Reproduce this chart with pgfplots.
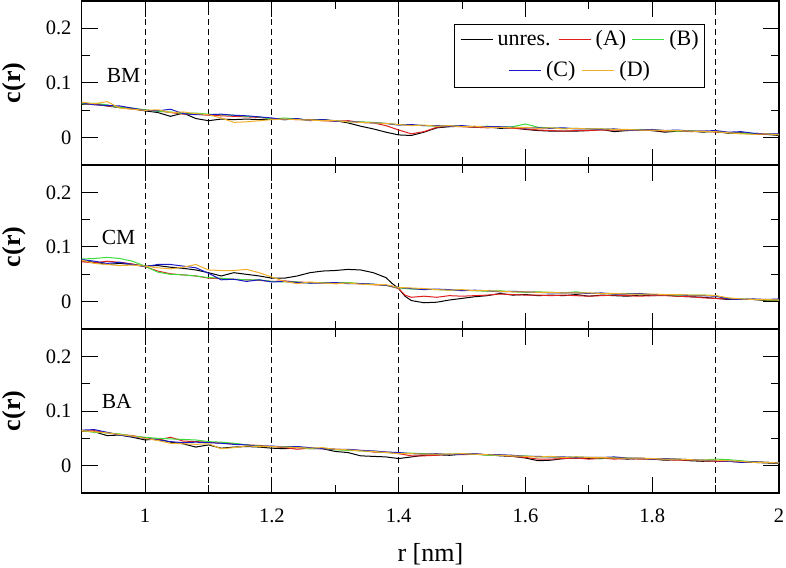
\documentclass[border=0pt]{standalone}
\usepackage{fontspec}
\setmainfont{Liberation Serif}
\usepackage{pgfplots}
\pgfplotsset{compat=1.18}
\usepackage{pgfplotstable}
\definecolor{cA}{RGB}{225,30,30}
\definecolor{cB}{RGB}{60,220,60}
\definecolor{cC}{RGB}{25,25,200}
\definecolor{cD}{RGB}{240,175,40}

\pgfplotstableread{
x U A B C D
0.90 0.061 0.063 0.062 0.064 0.065
0.92 0.062 0.061 0.063 0.060 0.062
0.94 0.058 0.058 0.060 0.059 0.066
0.96 0.055 0.056 0.055 0.058 0.054
0.98 0.053 0.052 0.054 0.054 0.052
1.00 0.049 0.050 0.051 0.050 0.050
1.02 0.046 0.049 0.048 0.049 0.051
1.04 0.039 0.046 0.047 0.052 0.046
1.06 0.045 0.043 0.044 0.044 0.047
1.08 0.035 0.043 0.045 0.042 0.044
1.10 0.031 0.041 0.043 0.042 0.042
1.12 0.034 0.040 0.042 0.043 0.036
1.14 0.033 0.039 0.041 0.041 0.028
1.16 0.034 0.038 0.039 0.040 0.029
1.18 0.033 0.037 0.038 0.038 0.031
1.20 0.034 0.035 0.034 0.036 0.033
1.22 0.033 0.034 0.036 0.033 0.034
1.24 0.034 0.033 0.034 0.035 0.033
1.26 0.032 0.033 0.032 0.031 0.032
1.28 0.033 0.031 0.032 0.033 0.031
1.30 0.031 0.030 0.031 0.030 0.031
1.32 0.027 0.031 0.029 0.030 0.029
1.34 0.021 0.028 0.029 0.028 0.028
1.36 0.016 0.027 0.028 0.027 0.027
1.38 0.010 0.022 0.026 0.026 0.026
1.40 0.005 0.014 0.024 0.023 0.024
1.42 0.004 0.007 0.023 0.024 0.022
1.44 0.010 0.011 0.022 0.022 0.023
1.46 0.018 0.019 0.021 0.022 0.021
1.48 0.020 0.021 0.022 0.021 0.022
1.50 0.021 0.020 0.021 0.022 0.020
1.52 0.019 0.019 0.020 0.020 0.021
1.54 0.020 0.018 0.021 0.020 0.019
1.56 0.017 0.019 0.019 0.020 0.019
1.58 0.018 0.017 0.020 0.019 0.018
1.60 0.015 0.016 0.025 0.018 0.019
1.62 0.013 0.014 0.019 0.018 0.017
1.64 0.012 0.013 0.018 0.017 0.018
1.66 0.012 0.012 0.017 0.018 0.016
1.68 0.012 0.013 0.017 0.016 0.017
1.70 0.013 0.013 0.016 0.016 0.016
1.72 0.015 0.014 0.016 0.015 0.016
1.74 0.011 0.014 0.015 0.016 0.015
1.76 0.013 0.013 0.014 0.014 0.015
1.78 0.014 0.014 0.015 0.014 0.014
1.80 0.013 0.013 0.014 0.015 0.014
1.82 0.010 0.012 0.013 0.013 0.013
1.84 0.012 0.013 0.012 0.014 0.013
1.86 0.012 0.011 0.013 0.012 0.012
1.88 0.010 0.012 0.011 0.012 0.011
1.90 0.012 0.010 0.011 0.013 0.011
1.92 0.008 0.009 0.009 0.010 0.009
1.94 0.009 0.008 0.008 0.011 0.007
1.96 0.007 0.007 0.008 0.008 0.006
1.98 0.006 0.006 0.007 0.007 0.007
2.00 0.004 0.006 0.006 0.007 0.005
}\tBM

\pgfplotstableread{
x U A B C D
0.90 0.075 0.073 0.078 0.077 0.076
0.92 0.072 0.071 0.079 0.074 0.070
0.94 0.068 0.074 0.081 0.070 0.068
0.96 0.070 0.072 0.079 0.072 0.066
0.98 0.068 0.069 0.074 0.068 0.067
1.00 0.065 0.064 0.065 0.064 0.065
1.02 0.066 0.056 0.054 0.068 0.062
1.04 0.063 0.051 0.050 0.068 0.060
1.06 0.061 0.049 0.049 0.065 0.063
1.08 0.058 0.047 0.047 0.062 0.068
1.10 0.053 0.043 0.044 0.052 0.058
1.12 0.047 0.042 0.043 0.040 0.057
1.14 0.053 0.041 0.041 0.041 0.057
1.16 0.050 0.040 0.040 0.037 0.059
1.18 0.047 0.039 0.040 0.040 0.053
1.20 0.043 0.037 0.037 0.036 0.045
1.22 0.043 0.038 0.036 0.037 0.037
1.24 0.047 0.036 0.036 0.035 0.033
1.26 0.053 0.035 0.034 0.034 0.036
1.28 0.056 0.035 0.035 0.034 0.034
1.30 0.057 0.033 0.034 0.035 0.033
1.32 0.059 0.034 0.035 0.033 0.034
1.34 0.058 0.033 0.033 0.033 0.032
1.36 0.053 0.031 0.032 0.032 0.031
1.38 0.044 0.030 0.030 0.030 0.031
1.39 0.033 nan nan nan nan
1.40 0.024 0.024 0.025 0.026 0.026
1.41 0.010 0.012 nan nan nan
1.42 0.002 0.008 0.023 0.024 0.025
1.44 -0.002 0.010 0.023 0.022 0.024
1.46 -0.001 0.008 0.022 0.023 0.022
1.48 0.003 0.011 0.021 0.022 0.021
1.50 0.006 0.010 0.021 0.020 0.022
1.52 0.009 0.011 0.020 0.021 0.020
1.54 0.011 0.012 0.019 0.020 0.020
1.56 0.015 0.014 0.020 0.018 0.019
1.58 0.012 0.013 0.018 0.019 0.018
1.60 0.013 0.012 0.017 0.018 0.018
1.62 0.011 0.012 0.018 0.017 0.017
1.64 0.012 0.011 0.017 0.016 0.017
1.66 0.011 0.012 0.016 0.016 0.016
1.68 0.013 0.011 0.018 0.016 0.016
1.70 0.010 0.010 0.015 0.015 0.016
1.72 0.012 0.011 0.015 0.016 0.015
1.74 0.011 0.012 0.014 0.014 0.015
1.76 0.010 0.011 0.015 0.014 0.014
1.78 0.012 0.010 0.014 0.015 0.014
1.80 0.011 0.011 0.013 0.013 0.014
1.82 0.012 0.011 0.013 0.013 0.013
1.84 0.010 0.010 0.012 0.013 0.013
1.86 0.009 0.009 0.012 0.011 0.012
1.88 0.008 0.007 0.012 0.011 0.012
1.90 0.006 0.006 0.011 0.010 0.011
1.92 0.004 0.005 0.006 0.005 0.007
1.94 0.004 0.004 0.005 0.004 0.005
1.96 0.004 0.004 0.004 0.005 0.004
1.98 0.002 0.003 0.003 0.004 0.004
2.00 0.002 0.003 0.003 0.005 0.003
}\tCM

\pgfplotstableread{
x U A B C D
0.90 0.064 0.063 0.064 0.065 0.064
0.92 0.062 0.064 0.061 0.066 0.062
0.94 0.055 0.060 0.060 0.061 0.060
0.96 0.056 0.057 0.058 0.056 0.057
0.98 0.052 0.055 0.054 0.053 0.054
1.00 0.047 0.051 0.052 0.050 0.050
1.02 0.049 0.047 0.050 0.047 0.046
1.04 0.043 0.052 0.049 0.044 0.041
1.06 0.040 0.045 0.048 0.042 0.040
1.08 0.034 0.044 0.047 0.043 0.039
1.10 0.038 0.043 0.044 0.042 0.040
1.12 0.032 0.041 0.043 0.041 0.031
1.14 0.034 0.040 0.041 0.039 0.033
1.16 0.035 0.038 0.038 0.038 0.036
1.18 0.034 0.037 0.036 0.035 0.035
1.20 0.032 0.035 0.035 0.036 0.035
1.22 0.031 0.033 0.035 0.034 0.034
1.24 0.033 0.030 0.034 0.035 0.033
1.26 0.031 0.032 0.031 0.033 0.032
1.28 0.031 0.031 0.032 0.031 0.033
1.30 0.026 0.030 0.029 0.030 0.030
1.32 0.024 0.029 0.028 0.030 0.029
1.34 0.018 0.028 0.027 0.028 0.027
1.36 0.017 0.025 0.026 0.027 0.026
1.38 0.016 0.025 0.024 0.025 0.024
1.40 0.013 0.022 0.023 0.024 0.022
1.42 0.016 0.018 0.023 0.022 0.022
1.44 0.019 0.018 0.022 0.021 0.021
1.46 0.020 0.019 0.021 0.022 0.021
1.48 0.019 0.021 0.021 0.020 0.021
1.50 0.021 0.020 0.022 0.021 0.022
1.52 0.021 0.021 0.021 0.022 0.021
1.54 0.020 0.020 0.019 0.020 0.020
1.56 0.018 0.019 0.019 0.020 0.019
1.58 0.017 0.017 0.018 0.019 0.018
1.60 0.014 0.015 0.018 0.017 0.017
1.62 0.009 0.012 0.016 0.017 0.016
1.64 0.010 0.012 0.016 0.016 0.017
1.66 0.013 0.013 0.015 0.016 0.015
1.68 0.014 0.014 0.016 0.015 0.016
1.70 0.013 0.012 0.015 0.015 0.015
1.72 0.013 0.014 0.014 0.015 0.015
1.74 0.014 0.012 0.015 0.016 0.014
1.76 0.012 0.013 0.014 0.014 0.014
1.78 0.013 0.012 0.013 0.014 0.014
1.80 0.012 0.012 0.013 0.012 0.013
1.82 0.010 0.011 0.012 0.013 0.012
1.84 0.011 0.010 0.012 0.012 0.012
1.86 0.009 0.010 0.011 0.011 0.011
1.88 0.008 0.009 0.010 0.010 0.010
1.90 0.009 0.008 0.012 0.009 0.010
1.92 0.008 0.008 0.011 0.008 0.009
1.94 0.007 0.007 0.009 0.006 0.008
1.96 0.006 0.007 0.007 0.007 0.006
1.98 0.005 0.006 0.006 0.006 0.006
2.00 0.004 0.005 0.005 0.005 0.005
}\tBA

\pgfplotsset{
 panel/.style={
  scale only axis, width=697.3pt, height=164pt,
  xmin=0.9, xmax=2, ymin=-0.05, ymax=0.25,
  xtick={1,1.2,1.4,1.6,1.8,2},
  minor xtick={1.1,1.3,1.5,1.7,1.9},
  ytick={0,0.1,0.2}, minor ytick={0.05,0.15},
  tick align=inside, major tick length=16pt, minor tick length=8pt,
  tick style={black, line width=1pt},
  axis line style={line width=1.1pt},
  every axis plot/.append style={line width=1pt},
  /pgf/number format/assume math mode=true,
  ticklabel style={font=\fontsize{20.5}{24}\selectfont, inner sep=0pt},
  yticklabel style={xshift=-10pt},
  xticklabel style={yshift=-16pt},
  ylabel={c(r)},
  ylabel style={font=\fontsize{26}{30}\selectfont\bfseries, at={(axis description cs:-0.0802,0.5)}, anchor=south, inner sep=0pt},
 },
 vl/.style={black, line width=0.9pt, dash pattern=on 6pt off 4pt, forget plot},
}
\newcommand\myvlines{%
  \addplot[vl] coordinates {(1,-0.05) (1,0.25)};
  \addplot[vl] coordinates {(1.1,-0.05) (1.1,0.25)};
  \addplot[vl] coordinates {(1.2,-0.05) (1.2,0.25)};
  \addplot[vl] coordinates {(1.4,-0.05) (1.4,0.25)};
  \addplot[vl] coordinates {(1.9,-0.05) (1.9,0.25)};
}
\newcommand\mycurves[1]{%
  \addplot[black] table[x=x,y=U] {#1};
  \addplot[cA] table[x=x,y=A] {#1};
  \addplot[cB] table[x=x,y=B] {#1};
  \addplot[cC] table[x=x,y=C] {#1};
  \addplot[cD] table[x=x,y=D] {#1};
}
\newcommand\legline[1]{\textcolor{#1}{\rule[0.27em]{32pt}{1.2pt}}}

\begin{document}
\begin{tikzpicture}
\useasboundingbox (-81.7pt,-74pt) rectangle (704.3pt,493pt);
% panel 1
\begin{axis}[panel, at={(0,328pt)}, xticklabels={}]
\myvlines
\mycurves{\tBM}
\node[anchor=base west, inner sep=0pt, font=\fontsize{21.5}{24}\selectfont] at (axis cs:0.9394,0.101) {BM};
\node[draw, line width=1pt, anchor=north east, inner sep=0pt, minimum width=250pt, minimum height=63pt, align=center, font=\fontsize{22}{31}\selectfont, fill=white] at (rel axis cs:0.894,0.86)
{\legline{black}\hspace{5pt}unres.\hspace{8pt}\legline{cA}\hspace{5pt}(A)\hspace{6pt}\legline{cB}\hspace{5pt}(B)\\
 \legline{cC}\hspace{5pt}(C)\hspace{7pt}\legline{cD}\hspace{5pt}(D)};
\end{axis}
% panel 2
\begin{axis}[panel, at={(0,164pt)}, xticklabels={}]
\myvlines
\mycurves{\tCM}
\node[anchor=base west, inner sep=0pt, font=\fontsize{21.5}{24}\selectfont] at (axis cs:0.9315,0.1046) {CM};
\end{axis}
% panel 3
\begin{axis}[panel, at={(0,0)},
  xlabel={r [nm]},
  xlabel style={font=\fontsize{26}{30}\selectfont, inner sep=0pt, anchor=north, at={(axis description cs:0.5,0)}, yshift=-50pt}]
\myvlines
\mycurves{\tBA}
\node[anchor=base west, inner sep=0pt, font=\fontsize{21.5}{24}\selectfont] at (axis cs:0.9315,0.1046) {BA};
\end{axis}
\end{tikzpicture}
\end{document}
